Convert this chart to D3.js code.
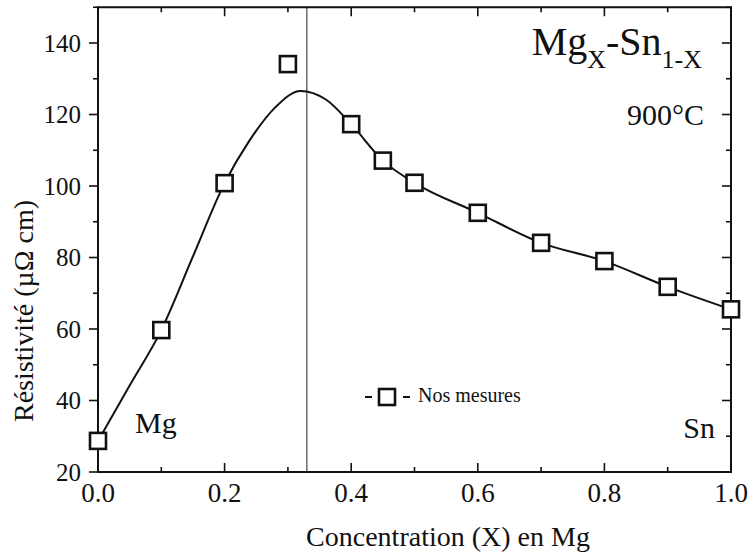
<!DOCTYPE html>
<html>
<head>
<meta charset="utf-8">
<script src="https://cdn.jsdelivr.net/npm/d3@7"></script>
<style>
  body { margin: 0; background: #fff; }
  svg text { font-family: "Liberation Serif", "DejaVu Serif", serif; fill: #111; }
</style>
</head>
<body>
<svg id="svg"></svg>
<script>
// measured resistivity (points)
let concX = [0.0, 0.1, 0.2, 0.3, 0.4, 0.45, 0.5, 0.6, 0.7, 0.8, 0.9, 1.0];
let resist = [28.7, 59.7, 100.8, 134.1, 117.3, 107.1, 100.9, 92.5, 84.1, 79.0, 71.8, 65.5];

// smooth guide curve
let fitX = [0.0, 0.05, 0.1, 0.15, 0.2, 0.24, 0.28, 0.32, 0.36, 0.4, 0.45, 0.5, 0.6, 0.7, 0.8, 0.9, 1.0];
let fitY = [28.7, 44.2, 59.7, 80.3, 100.8, 112.9, 122.0, 126.6, 124.2, 117.3, 107.1, 100.9, 92.5, 84.1, 79.0, 71.8, 65.5];

let vLineX = 0.33;
let xTicks = [0.0, 0.2, 0.4, 0.6, 0.8, 1.0];
let yTicks = [20, 40, 60, 80, 100, 120, 140];

let W = 752, H = 557;
let pLeft = 98, pRight = 731, pTop = 7.25, pBottom = 472;

let svg = d3.select("#svg").attr("width", W).attr("height", H)
            .attr("font-family", "'Liberation Serif', serif");

let x = d3.scaleLinear().domain([0, 1]).range([pLeft, pRight]);
let y = d3.scaleLinear().domain([20, 150]).range([pBottom, pTop]);

let xMinor = d3.range(0, 1.0001, 0.1);
let yMinor = d3.range(20, 150.001, 10);

// frame
svg.append("rect")
   .attr("x", pLeft).attr("y", pTop)
   .attr("width", pRight - pLeft).attr("height", pBottom - pTop)
   .attr("fill", "none").attr("stroke", "#111").attr("stroke-width", 2);

// ticks
function isMajor(v, list) { return list.some(function(t) { return Math.abs(t - v) < 1e-6; }); }

let tk = svg.append("g").attr("stroke", "#111").attr("stroke-width", 1.6);
xMinor.forEach(function(v) {
  let len = isMajor(v, xTicks) ? 9 : 5;
  tk.append("line").attr("x1", x(v)).attr("x2", x(v)).attr("y1", pBottom).attr("y2", pBottom - len);
  tk.append("line").attr("x1", x(v)).attr("x2", x(v)).attr("y1", pTop).attr("y2", pTop + len);
});
yMinor.forEach(function(v) {
  let len = isMajor(v, yTicks) ? 9 : 5;
  tk.append("line").attr("y1", y(v)).attr("y2", y(v)).attr("x1", pLeft).attr("x2", pLeft - len);
  tk.append("line").attr("y1", y(v)).attr("y2", y(v)).attr("x1", pRight).attr("x2", pRight - len);
});

// tick labels
svg.append("g").selectAll("text").data(xTicks).enter().append("text")
   .attr("x", function(d) { return x(d); }).attr("y", 502)
   .attr("text-anchor", "middle").attr("font-size", 27)
   .text(function(d) { return d.toFixed(1); });

svg.append("g").selectAll("text").data(yTicks).enter().append("text")
   .attr("x", 81).attr("y", function(d) { return y(d); }).attr("dy", "0.35em")
   .attr("text-anchor", "end").attr("font-size", 25)
   .text(function(d) { return d; });

// axis titles
svg.append("text").attr("x", 448).attr("y", 546)
   .attr("text-anchor", "middle").attr("font-size", 28)
   .text("Concentration (X) en Mg");

svg.append("text").attr("transform", "translate(33,422) rotate(-90)")
   .attr("text-anchor", "start").attr("font-size", 28)
   .text("Résistivité (µΩ cm)");

// vertical line
svg.append("line")
   .attr("x1", x(vLineX)).attr("x2", x(vLineX)).attr("y1", pTop).attr("y2", pBottom)
   .attr("stroke", "#222").attr("stroke-width", 1);

// curve
let pts = fitX.map(function(v, i) { return [v, fitY[i]]; });
let line = d3.line().x(function(d) { return x(d[0]); }).y(function(d) { return y(d[1]); })
             .curve(d3.curveMonotoneX);
svg.append("path").attr("d", line(pts))
   .attr("fill", "none").attr("stroke", "#111").attr("stroke-width", 2);

// markers
let sq = 16;
svg.append("g").selectAll("rect").data(concX).enter().append("rect")
   .attr("x", function(d) { return x(d) - sq / 2; })
   .attr("y", function(d, i) { return y(resist[i]) - sq / 2; })
   .attr("width", sq).attr("height", sq)
   .attr("fill", "#fff").attr("stroke", "#111").attr("stroke-width", 2.6);

// title
let title = svg.append("text").attr("x", 702).attr("y", 55)
   .attr("text-anchor", "end").attr("font-size", 40);
title.append("tspan").text("Mg");
title.append("tspan").attr("font-size", 26).attr("dy", 13).text("X");
title.append("tspan").attr("dy", -13).text("-Sn");
title.append("tspan").attr("font-size", 26).attr("dy", 13).text("1-X");

svg.append("text").attr("x", 704).attr("y", 125)
   .attr("text-anchor", "end").attr("font-size", 30).text("900°C");

// element labels
svg.append("text").attr("x", 135).attr("y", 433).attr("font-size", 30).text("Mg");
svg.append("text").attr("x", 715).attr("y", 438)
   .attr("text-anchor", "end").attr("font-size", 30).text("Sn");

// legend
let lg = svg.append("g");
lg.append("line").attr("x1", 365).attr("x2", 372).attr("y1", 397).attr("y2", 397)
  .attr("stroke", "#111").attr("stroke-width", 2);
lg.append("line").attr("x1", 403).attr("x2", 410).attr("y1", 397).attr("y2", 397)
  .attr("stroke", "#111").attr("stroke-width", 2);
lg.append("rect").attr("x", 379).attr("y", 389).attr("width", sq).attr("height", sq)
  .attr("fill", "#fff").attr("stroke", "#111").attr("stroke-width", 2.6);
lg.append("text").attr("x", 418).attr("y", 402).attr("font-size", 20).text("Nos mesures");
</script>
</body>
</html>
